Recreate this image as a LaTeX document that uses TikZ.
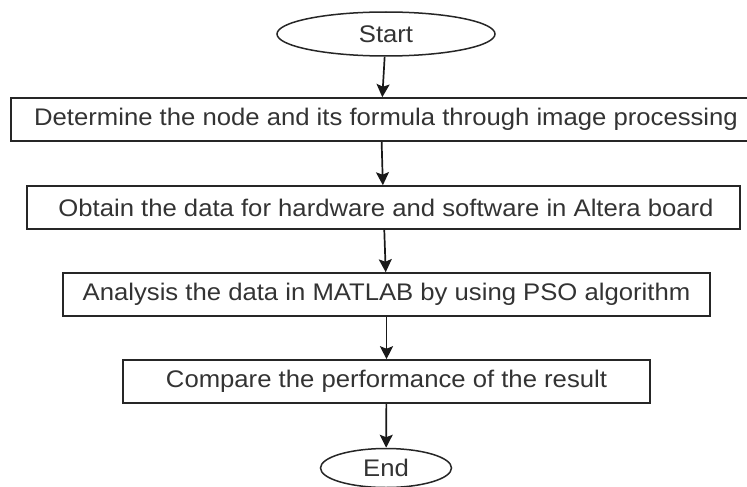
\documentclass[tikz,border=0pt]{standalone}
\usepackage{fontspec}
\setmainfont{Liberation Sans}[FakeStretch=1.07]
\usetikzlibrary{shapes.geometric,arrows.meta}
\begin{document}
\begin{tikzpicture}[x=1pt,y=-1pt,
  txt/.style={font=\fontsize{24}{28}\selectfont, text=black!80},
  stepbox/.style={draw=black!85, line width=1.6pt, inner sep=0pt, txt},
  term/.style={ellipse, draw=black!85, line width=1.5pt, inner sep=0pt, txt},
  flow/.style={draw=black!90, line width=1.7pt, -{Stealth[length=13pt,width=13pt,inset=2.5pt]}}]
\useasboundingbox (0,0) rectangle (747,487);
\node[term, minimum width=218, minimum height=44] (start) at (386,34) {Start};
\node[stepbox, minimum width=740, minimum height=43] (b1) at (381,119.5) {\hspace*{10pt}Determine the node and its formula through image processing};
\node[stepbox, minimum width=713, minimum height=43] (b2) at (383.5,207.5) {\hspace*{5pt}Obtain the data for hardware and software in Altera board};
\node[stepbox, minimum width=647, minimum height=43] (b3) at (386.5,294.5) {Analysis the data in MATLAB by using PSO algorithm};
\node[stepbox, minimum width=527, minimum height=43] (b4) at (386.5,381.5) {Compare the performance of the result};
\node[term, minimum width=131, minimum height=39] (end) at (386,468) {End};
\draw[flow] (start) -- (b1);
\draw[flow] (b1) -- (b2);
\draw[flow] (b2) -- (b3);
\draw[flow] (b3) -- (b4);
\draw[flow] (b4) -- (end);
\end{tikzpicture}
\end{document}
